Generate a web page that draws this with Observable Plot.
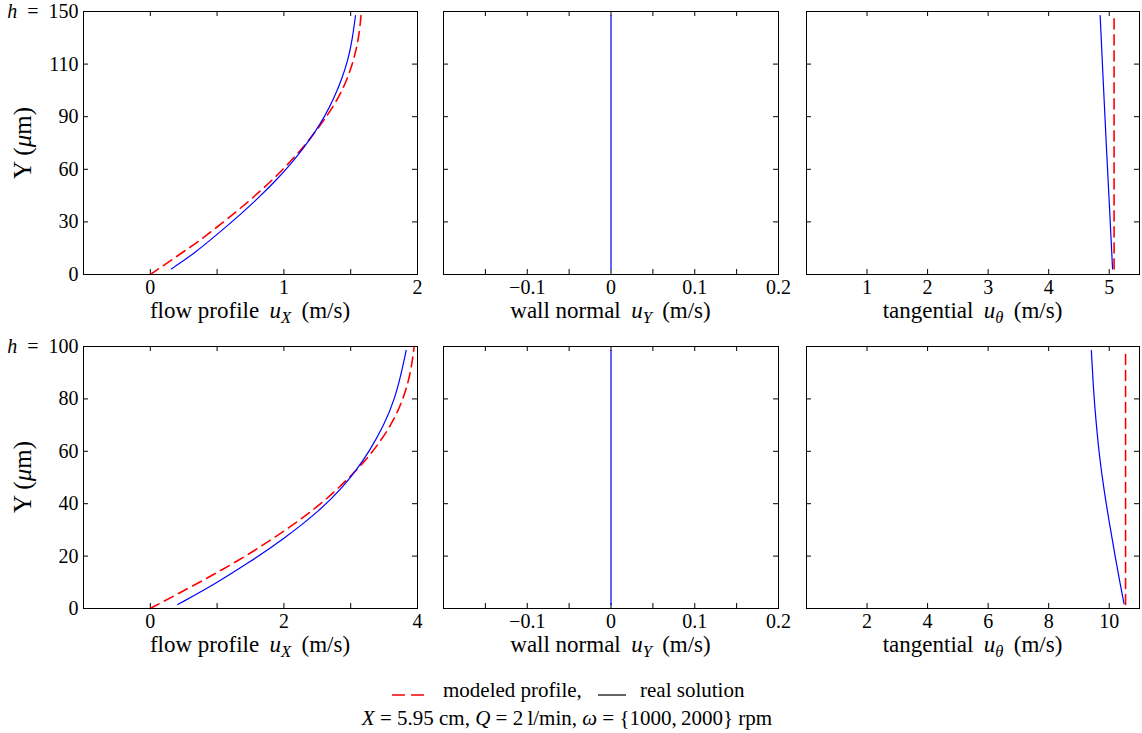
<!DOCTYPE html>
<html><head><meta charset="utf-8">
<script src="https://cdn.jsdelivr.net/npm/d3@7"></script>
<script src="https://cdn.jsdelivr.net/npm/@observablehq/plot@0.6"></script>
<style>
body{margin:0;background:#fff;font-family:"Liberation Serif","Times New Roman",serif;}
#root{position:relative;width:1142px;height:733px;overflow:hidden;background:#fff;}
.pl{position:absolute;}
.lab{position:absolute;font-size:21px;line-height:20px;white-space:nowrap;color:#000;}
.xt{font-size:23px;}
.yt{font-size:25px;}
.sb{font-size:0.72em;position:relative;top:0.3em;font-style:italic;}
</style></head>
<body><div id="root"></div>
<script>
// ---------- data ----------
// omega = 1000 rpm, h = 150 um : flow profile u_X
const flow1000ModelY = [0, 8.4, 18.4, 31.2, 44.1, 59.3, 75.5, 91.6, 103, 114.5, 125.9, 137.3, 150];
const flow1000ModelU = [0, 0.16, 0.355, 0.57, 0.775, 0.99, 1.18, 1.335, 1.425, 1.49, 1.535, 1.565, 1.58];
const flow1000RealY  = [3.2, 11.8, 25.1, 34.6, 44.1, 53.6, 63.1, 72.6, 81.2, 89.7, 101.1, 110.6, 122, 133.5, 147.7];
const flow1000RealU  = [0.158, 0.326, 0.535, 0.68, 0.815, 0.94, 1.053, 1.153, 1.232, 1.303, 1.378, 1.429, 1.479, 1.511, 1.536];
// omega = 1000 rpm : wall normal u_Y
const wall1000RealY = [3.2, 147.7];
const wall1000RealU = [0, 0];
// omega = 1000 rpm : tangential u_theta
const tan1000ModelY = [3.2, 147.7];
const tan1000ModelU = [5.08, 5.08];
const tan1000RealY  = [3.2, 38.4, 74.5, 111, 147.7];
const tan1000RealU  = [5.055, 5.005, 4.95, 4.90, 4.85];

// omega = 2000 rpm, h = 100 um : flow profile u_X
const flow2000ModelY = [0, 5, 11.3, 18.3, 26, 33.6, 41.2, 51.4, 60, 70, 80, 90, 100];
const flow2000ModelU = [0, 0.37, 0.83, 1.32, 1.80, 2.23, 2.62, 3.04, 3.34, 3.61, 3.79, 3.90, 3.95];
const flow2000RealY  = [1.5, 9.4, 17.7, 26.6, 36.8, 45.7, 52.7, 60, 70, 80, 90, 98.5];
const flow2000RealU  = [0.41, 0.97, 1.49, 2.00, 2.51, 2.86, 3.08, 3.28, 3.50, 3.66, 3.76, 3.83];
// omega = 2000 rpm : wall normal u_Y
const wall2000RealY = [1.5, 98.5];
const wall2000RealU = [0, 0];
// omega = 2000 rpm : tangential u_theta
const tan2000ModelY = [1.5, 98.5];
const tan2000ModelU = [10.54, 10.54];
const tan2000RealY  = [1.8, 9.4, 19.6, 32.3, 45, 57.7, 70.5, 83.2, 98.5];
const tan2000RealU  = [10.49, 10.36, 10.20, 10.01, 9.83, 9.68, 9.57, 9.48, 9.41];

// ---------- axes: domains, ticks, tick labels ----------
const yDomTop = [0, 150], yDomBot = [0, 100];
const yTicksTop = [0, 30, 60, 90, 120, 150];
const yTickLabelsTop = ["0", "30", "60", "90", "110", "h\u2002=\u2002150"];
const yTicksBot = [0, 20, 40, 60, 80, 100];
const yTickLabelsBot = ["0", "20", "40", "60", "80", "h\u2002=\u2002100"];

const xDomFlowTop = [-0.5, 2], xMinorFlowTop = [0, 0.5, 1, 1.5], xTicksFlowTop = [0, 1, 2], xLabelsFlowTop = ["0", "1", "2"];
const xDomFlowBot = [-1, 4], xMinorFlowBot = [0, 1, 2, 3], xTicksFlowBot = [0, 2, 4], xLabelsFlowBot = ["0", "2", "4"];
const xDomWall = [-0.2, 0.2], xMinorWall = [-0.15, -0.1, -0.05, 0, 0.05, 0.1, 0.15];
const xTicksWall = [-0.1, 0, 0.1, 0.2], xLabelsWall = ["\u22120.1", "0", "0.1", "0.2"];
const xDomTanTop = [0, 5.5], xMinorTanTop = [1, 2, 3, 4, 5], xTicksTanTop = [1, 2, 3, 4, 5], xLabelsTanTop = ["1", "2", "3", "4", "5"];
const xDomTanBot = [0, 11], xMinorTanBot = [2, 4, 6, 8, 10], xTicksTanBot = [2, 4, 6, 8, 10], xLabelsTanBot = ["2", "4", "6", "8", "10"];

const xAxisTitles = [
  'flow profile\u2009 <i>u</i><span class="sb">X</span>\u2009 (m/s)',
  'wall normal\u2009 <i>u</i><span class="sb">Y</span>\u2009 (m/s)',
  'tangential\u2009 <i>u</i><span class="sb">\u03b8</span>\u2009 (m/s)'
];
const yAxisTitle = 'Y (<i>\u03bc</i>m)';
const legendModel = "modeled profile,";
const legendReal = "real solution";
const captionHTML = '<i>X</i> = 5.95 cm, <i>Q</i> = 2\u2009l/min, <i>\u03c9</i> = {1000,\u20092000} rpm';

// ---------- layout ----------
const cols = [{x0: 83, x1: 417}, {x0: 443, x1: 778}, {x0: 806, x1: 1139}];
const rows = [{y0: 11, y1: 274}, {y0: 346, y1: 608}];
const FONT = '"Liberation Serif","Times New Roman",serif';
const root = document.getElementById("root");

function zip(us, ys) { return us.map((u, i) => ({u, Y: ys[i]})); }
function lookup(ticks, labels) { return d => labels[ticks.findIndex(t => Math.abs(t - d) < 1e-9)]; }

function panel(c, r, o) {
  const ML = 90, MR = 3, MT = 14, MB = 34;
  const col = cols[c], row = rows[r];
  const w = col.x1 - col.x0, h = row.y1 - row.y0;
  const marks = [
    Plot.ruleX(o.xMinor, {x: d => d, insetTop: h - 5, stroke: "#000", strokeWidth: 1}),
    Plot.ruleX(o.xMinor, {x: d => d, insetBottom: h - 5, stroke: "#000", strokeWidth: 1}),
    Plot.ruleY(o.yMinor, {y: d => d, insetRight: w - 5, stroke: "#000", strokeWidth: 1}),
    Plot.ruleY(o.yMinor, {y: d => d, insetLeft: w - 5, stroke: "#000", strokeWidth: 1})
  ];
  if (o.model) marks.push(Plot.line(o.model, {x: "u", y: "Y", stroke: "#ff0000", strokeWidth: 1.6, strokeDasharray: "10,6", curve: "basis"}));
  marks.push(Plot.line(o.real, {x: "u", y: "Y", stroke: "#0000ff", strokeWidth: 1.2, curve: "basis"}));
  marks.push(Plot.frame({stroke: "#000", strokeWidth: 1}));
  marks.push(Plot.axisX({ticks: o.xTicks, tickSize: 0, tickPadding: 5, tickFormat: lookup(o.xTicks, o.xLabels), fontSize: 20, label: null}));
  if (o.yTicks) marks.push(Plot.axisY({ticks: o.yTicks, tickSize: 0, tickPadding: 5, tickFormat: lookup(o.yTicks, o.yLabels), fontSize: 20, label: null}));
  const svg = Plot.plot({
    width: w + ML + MR, height: h + MT + MB,
    marginLeft: ML, marginRight: MR, marginTop: MT, marginBottom: MB,
    x: {domain: o.xDom, label: null},
    y: {domain: o.yDom, label: null, axis: o.yTicks ? undefined : null},
    style: {fontFamily: FONT, fontSize: "20px", background: "transparent", color: "#000", overflow: "visible"},
    marks
  });
  svg.classList.add("pl");
  svg.style.left = (col.x0 - ML) + "px";
  svg.style.top = (row.y0 - MT) + "px";
  svg.querySelectorAll("text").forEach(t => {
    const s = t.textContent;
    if (s.startsWith("h\u2002")) {
      t.textContent = "";
      const a = document.createElementNS("http://www.w3.org/2000/svg", "tspan");
      a.setAttribute("font-style", "italic"); a.textContent = "h";
      const b = document.createElementNS("http://www.w3.org/2000/svg", "tspan");
      b.textContent = s.slice(1);
      t.appendChild(a); t.appendChild(b);
    }
  });
  root.appendChild(svg);
  // x axis title
  const d = document.createElement("div");
  d.className = "lab xt";
  d.innerHTML = xAxisTitles[c];
  d.style.left = ((col.x0 + col.x1) / 2) + "px";
  d.style.top = (row.y1 + 27) + "px";
  d.style.transform = "translateX(-50%)";
  root.appendChild(d);
}

const rowsData = [
  {yDom: yDomTop, yTicks: yTicksTop, yLabels: yTickLabelsTop, yMinor: yTicksTop.slice(1, -1),
   flow: {xDom: xDomFlowTop, xMinor: xMinorFlowTop, xTicks: xTicksFlowTop, xLabels: xLabelsFlowTop,
          model: zip(flow1000ModelU, flow1000ModelY), real: zip(flow1000RealU, flow1000RealY)},
   wall: {real: zip(wall1000RealU, wall1000RealY)},
   tan: {xDom: xDomTanTop, xMinor: xMinorTanTop, xTicks: xTicksTanTop, xLabels: xLabelsTanTop,
         model: zip(tan1000ModelU, tan1000ModelY), real: zip(tan1000RealU, tan1000RealY)}},
  {yDom: yDomBot, yTicks: yTicksBot, yLabels: yTickLabelsBot, yMinor: yTicksBot.slice(1, -1),
   flow: {xDom: xDomFlowBot, xMinor: xMinorFlowBot, xTicks: xTicksFlowBot, xLabels: xLabelsFlowBot,
          model: zip(flow2000ModelU, flow2000ModelY), real: zip(flow2000RealU, flow2000RealY)},
   wall: {real: zip(wall2000RealU, wall2000RealY)},
   tan: {xDom: xDomTanBot, xMinor: xMinorTanBot, xTicks: xTicksTanBot, xLabels: xLabelsTanBot,
         model: zip(tan2000ModelU, tan2000ModelY), real: zip(tan2000RealU, tan2000RealY)}}
];

rowsData.forEach((rd, r) => {
  panel(0, r, {...rd.flow, yDom: rd.yDom, yTicks: rd.yTicks, yLabels: rd.yLabels, yMinor: rd.yMinor});
  panel(1, r, {xDom: xDomWall, xMinor: xMinorWall, xTicks: xTicksWall, xLabels: xLabelsWall, real: rd.wall.real,
               yDom: rd.yDom, yMinor: rd.yMinor});
  panel(2, r, {...rd.tan, yDom: rd.yDom, yMinor: rd.yMinor});
  // y axis title
  const d = document.createElement("div");
  d.className = "lab yt";
  d.innerHTML = yAxisTitle;
  d.style.left = "23px";
  d.style.top = ((rows[r].y0 + rows[r].y1) / 2) + "px";
  d.style.transform = "translate(-50%,-50%) rotate(-90deg)";
  root.appendChild(d);
});

// ---------- legend / caption ----------
function add(html, left, top, extra) {
  const d = document.createElement("div");
  d.className = "lab"; d.innerHTML = html;
  d.style.left = left + "px"; d.style.top = top + "px";
  if (extra) Object.assign(d.style, extra);
  root.appendChild(d); return d;
}
add('<svg width="34" height="6"><line x1="0" y1="3" x2="34" y2="3" stroke="#ff0000" stroke-width="1.5" stroke-dasharray="13,6"/></svg>', 392, 688, {lineHeight: "6px"});
add(legendModel, 443, 680);
add('<svg width="28" height="6"><line x1="0" y1="3" x2="28" y2="3" stroke="#222" stroke-width="1.4"/></svg>', 598, 688, {lineHeight: "6px"});
add(legendReal, 640, 680);
add(captionHTML, 567, 708, {transform: "translateX(-50%)"});
</script>
</body></html>
